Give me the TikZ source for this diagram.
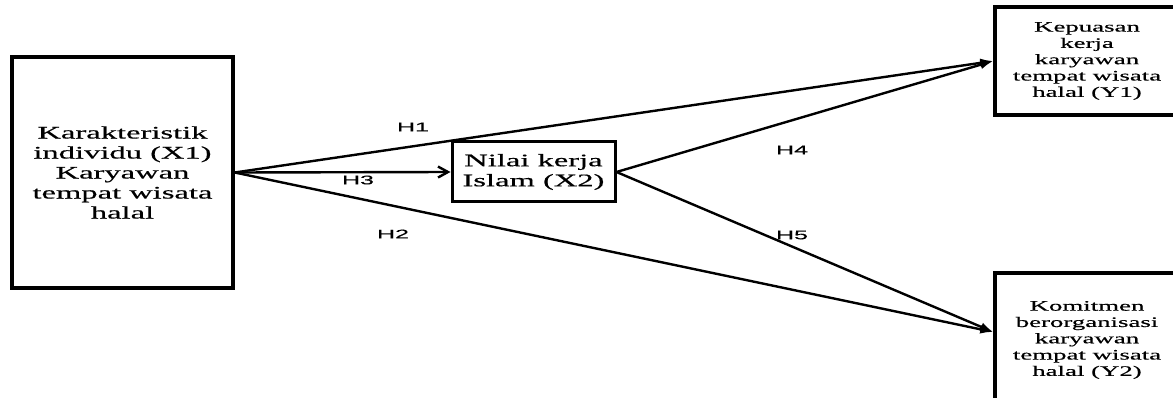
\documentclass[tikz,border=0pt]{standalone}
\usepackage{fontspec}
\usetikzlibrary{arrows.meta}
\newfontfamily\boxfont[FakeStretch=1.85,FakeBold=0.5]{Liberation Serif}
\newfontfamily\hfont[FakeStretch=2,FakeBold=0.3]{Liberation Sans}
\begin{document}
\begin{tikzpicture}[x=1pt,y=-1pt,
    varbox/.style={draw,rectangle,align=center,inner sep=0pt},
    bigtext/.style={font=\boxfont\fontsize{17.6}{20}\selectfont},
    smalltext/.style={font=\boxfont\fontsize{14.5}{16.3}\selectfont},
    hlabel/.style={font=\hfont\fontsize{12.5}{14}\selectfont,inner sep=0pt},
    path/.style={line width=2.4pt,-{Latex[length=13pt,width=9pt]}}]
    \useasboundingbox (0,0) rectangle (1173,398);
    \node[varbox,bigtext,line width=3.5pt,minimum width=221pt,minimum height=231pt] (x1) at (122.5,172.5) {Karakteristik\\individu (X1)\\Karyawan\\tempat wisata\\halal};
    \node[varbox,bigtext,line width=3pt,minimum width=163pt,minimum height=60pt] (x2) at (533.5,172) {Nilai kerja\\Islam (X2)};
    \node[varbox,smalltext,line width=3.5pt,minimum width=184pt,minimum height=108pt] (y1) at (1087,61) {Kepuasan\\kerja\\karyawan\\tempat wisata\\halal (Y1)};
    \node[varbox,smalltext,line width=3.5pt,minimum width=184pt,minimum height=134pt] (y2) at (1087,340) {Komitmen\\berorganisasi\\karyawan\\tempat wisata\\halal (Y2)};
    \coordinate (y2in) at ([yshift=8pt]y2.west);
    % paths
    \draw[path] (x1.east) -- (y1.west);
    \draw[path] (x1.east) -- (y2in);
    \draw[line width=2.4pt,-{Straight Barb[length=10pt,width=11pt]}] (x1.east) -- (x2.west);
    \draw[path] (x2.east) -- (y1.west);
    \draw[path] (x2.east) -- (y2in);
    % labels
    \node[hlabel] (h1) at (413,127) {H1};
    \node[hlabel] (h2) at (393,234) {H2};
    \node[hlabel] (h3) at (358,180) {H3};
    \node[hlabel] (h4) at (792,150) {H4};
    \node[hlabel] (h5) at (792,235) {H5};
\end{tikzpicture}
\end{document}
